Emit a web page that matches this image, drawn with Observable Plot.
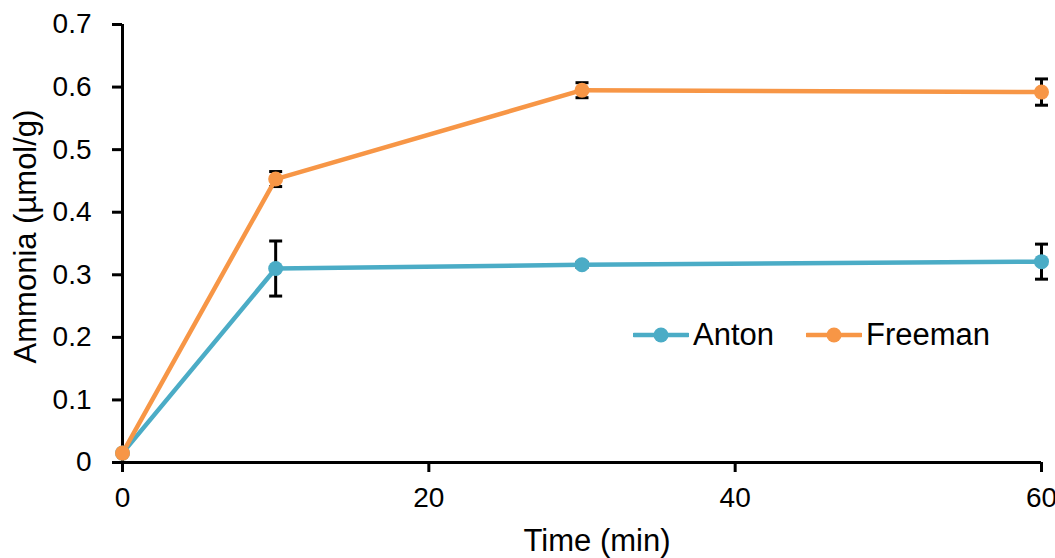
<!DOCTYPE html>
<html>
<head>
<meta charset="utf-8">
<script src="https://cdn.jsdelivr.net/npm/d3@7"></script>
<script src="https://cdn.jsdelivr.net/npm/@observablehq/plot@0.6"></script>
<style>
  html, body { margin: 0; padding: 0; background: #fff; }
  #chart { position: relative; width: 1055px; height: 558px; font-family: "Liberation Sans", Arial, sans-serif; }
  #legend { position: absolute; left: 633px; top: 317px; display: flex; align-items: center; font-size: 31px; color: #000; }
  #legend .item { display: flex; align-items: center; }
  #legend svg { display: block; }
</style>
</head>
<body>
<div id="chart"></div>
<script>
// Sampling times (min)
const times = [0, 10, 30, 60];

// Ammonia content (µmol/g) per variety, with ± error
const anton = [0.015, 0.310, 0.316, 0.321];
const antonErr = [0.002, 0.044, 0.004, 0.028];
const freeman = [0.015, 0.453, 0.595, 0.592];
const freemanErr = [0.002, 0.012, 0.012, 0.021];

// Axis ticks, tick labels and titles
const xTicks = [0, 20, 40, 60];
const yTicks = [0, 0.1, 0.2, 0.3, 0.4, 0.5, 0.6, 0.7];
const yTickLabels = ["0", "0.1", "0.2", "0.3", "0.4", "0.5", "0.6", "0.7"];
const xTitle = "Time (min)";
const yTitle = "Ammonia (µmol/g)";

const seriesNames = ["Anton", "Freeman"];
const seriesColors = ["#4BACC6", "#F79646"];

const rows = [];
[[anton, antonErr], [freeman, freemanErr]].forEach(([vals, errs], s) => {
  times.forEach((t, i) => rows.push({
    series: seriesNames[s], t, v: vals[i], lo: vals[i] - errs[i], hi: vals[i] + errs[i]
  }));
});

// Horizontal cap for the error bars
const capSymbol = {
  draw(context, size) {
    const r = Math.sqrt(size / Math.PI);
    context.moveTo(-r, 0);
    context.lineTo(r, 0);
  }
};

const color = {domain: seriesNames, range: seriesColors};

const chart = Plot.plot({
  width: 1055,
  height: 558,
  marginLeft: 122,
  marginRight: 14,
  marginTop: 24,
  marginBottom: 96,
  style: {fontFamily: "Liberation Sans, Arial, sans-serif", fontSize: "28px", color: "#000", background: "#fff", overflow: "visible"},
  x: {domain: [0, 60]},
  y: {domain: [0, 0.7]},
  color,
  marks: [
    Plot.axisY({
      ticks: yTicks,
      tickFormat: d => yTickLabels[yTicks.indexOf(d)],
      tickSize: 10,
      tickPadding: 21,
      strokeWidth: 3,
      stroke: "#000",
      fontSize: 28,
      label: null
    }),
    Plot.axisX({
      ticks: xTicks,
      tickSize: 10,
      tickPadding: 15,
      strokeWidth: 3,
      stroke: "#000",
      fontSize: 28,
      label: null
    }),
    // axis titles
    Plot.text([xTitle], {frameAnchor: "bottom", text: d => d, fontSize: 31, textAnchor: "middle", lineAnchor: "middle", dx: 15, dy: 79, fill: "#000"}),
    Plot.text([yTitle], {frameAnchor: "left", text: d => d, fontSize: 31, rotate: -90, textAnchor: "middle", lineAnchor: "middle", dx: -96, dy: -7, fill: "#000"}),
    Plot.ruleX([0], {stroke: "#000", strokeWidth: 3}),
    Plot.ruleY([0], {stroke: "#000", strokeWidth: 3}),
    // error bars
    Plot.ruleX(rows, {x: "t", y1: "lo", y2: "hi", stroke: "#000", strokeWidth: 3}),
    Plot.dot(rows, {x: "t", y: "lo", r: 6.5, symbol: capSymbol, stroke: "#000", strokeWidth: 3, fill: "none"}),
    Plot.dot(rows, {x: "t", y: "hi", r: 6.5, symbol: capSymbol, stroke: "#000", strokeWidth: 3, fill: "none"}),
    // series lines and markers
    Plot.line(rows, {x: "t", y: "v", z: "series", stroke: "series", strokeWidth: 4.5}),
    Plot.dot(rows, {x: "t", y: "v", fill: "series", r: 7.5})
  ]
});

const root = document.getElementById("chart");
root.appendChild(chart);

// Legend overlaid inside the plot area
const legend = document.createElement("div");
legend.id = "legend";
seriesNames.forEach((name, i) => {
  const item = document.createElement("div");
  item.className = "item";
  if (i > 0) item.style.marginLeft = "32px";
  item.innerHTML =
    `<svg width="56" height="20"><line x1="1" y1="10" x2="55" y2="10" stroke="${seriesColors[i]}" stroke-width="4.5" stroke-linecap="round"/>` +
    `<circle cx="28" cy="10" r="7.5" fill="${seriesColors[i]}"/></svg>` +
    `<span style="margin-left:4px">${name}</span>`;
  legend.appendChild(item);
});
root.appendChild(legend);
</script>
</body>
</html>
